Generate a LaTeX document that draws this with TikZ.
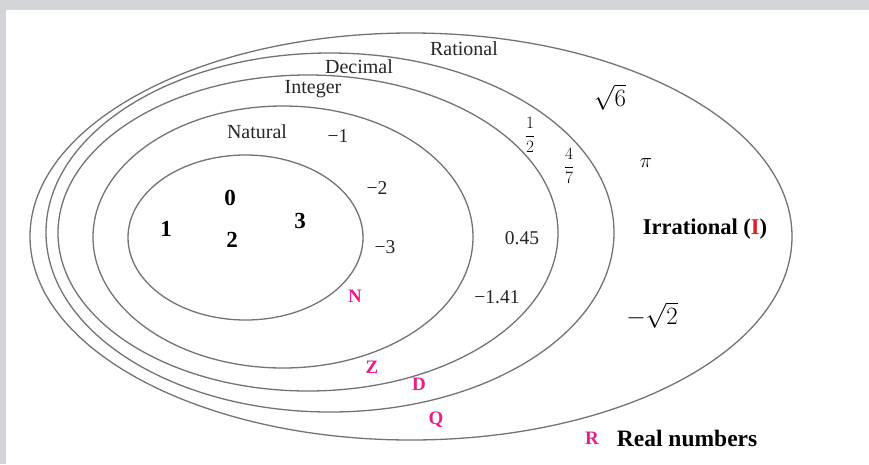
\documentclass[tikz,border=0pt]{standalone}
\usepackage{amsmath,amssymb}
\usepackage{fontspec}
\setmainfont{Liberation Serif}
\usetikzlibrary{positioning}

\definecolor{setpink}{RGB}{232,30,140}
\definecolor{framegray}{RGB}{211,213,216}
\definecolor{irred}{RGB}{225,30,40}

\begin{document}
\begin{tikzpicture}[
  x=1pt, y=-1pt,
  setline/.style={draw=black!55, line width=1.3pt},
  setlabel/.style={font=\fontsize{20}{22}\selectfont, text=black!85},
  smallnum/.style={font=\fontsize{19.5}{21}\selectfont, text=black!85},
  bignum/.style={font=\bfseries\fontsize{23}{25}\selectfont},
  setletter/.style={font=\bfseries\fontsize{19}{21}\selectfont, text=setpink},
  headline/.style={font=\bfseries\fontsize{22.5}{24}\selectfont}]
  % frame
  \fill[framegray] (0,0) rectangle (869,464);
  \fill[white] (6,10) rectangle (869,464);
  \useasboundingbox (0,0) rectangle (869,464);
  % nested sets
  \draw[setline] (411,236.5) ellipse [x radius=381, y radius=203.5];
  \draw[setline] (330,232.5) ellipse [x radius=284, y radius=179.5];
  \draw[setline] (308,233) ellipse [x radius=250, y radius=158];
  \draw[setline] (283,237) ellipse [x radius=190, y radius=131];
  \draw[setline] (245.5,237.5) ellipse [x radius=117.5, y radius=82.5];
  % set names
  \node[setlabel] (rational) at (464,49) {Rational};
  \node[setlabel] (decimal) at (359,67) {Decimal};
  \node[setlabel] (integer) at (313,89) {Integer};
  \node[setlabel] (natural) at (257,132) {Natural};
  % members
  \node[bignum] (zero) at (230,198) {0};
  \node[bignum] (one) at (166,229) {1};
  \node[bignum] (two) at (232,240) {2};
  \node[bignum] (three) at (300,221) {3};
  \node[smallnum] (mone) at (338,136) {−1};
  \node[smallnum] (mtwo) at (377,188) {−2};
  \node[smallnum] (mthree) at (385,247) {−3};
  \node[smallnum] (dec) at (522,238) {0.45};
  \node[smallnum] (mdec) at (497,297) {−1.41};
  \node[font=\fontsize{16}{18}\selectfont] (half) at (530,135) {$\dfrac{1}{2}$};
  \node[font=\fontsize{16}{18}\selectfont] (fourth) at (569,166) {$\dfrac{4}{7}$};
  \node[font=\fontsize{24}{26}\selectfont] (sqsix) at (610,97) {$\sqrt{6}$};
  \node[font=\fontsize{22}{24}\selectfont] (piv) at (646,163) {$\pi$};
  \node[font=\fontsize{23}{25}\selectfont] (msqtwo) at (652,315) {$-\sqrt{2}$};
  \node[headline] (irr) at (705,229) {Irrational (\textcolor{irred}{I})};
  % set letters
  \node[setletter] (nn) at (355,296) {N};
  \node[setletter] (zz) at (372,367) {Z};
  \node[setletter] (dd) at (419,384) {D};
  \node[setletter] (qq) at (436,420) {Q};
  \node[setletter] (rr) at (592,438) {R};
  \node[headline, font=\bfseries\fontsize{23.5}{25}\selectfont, right=11pt of rr] (real) {Real numbers};
\end{tikzpicture}
\end{document}
